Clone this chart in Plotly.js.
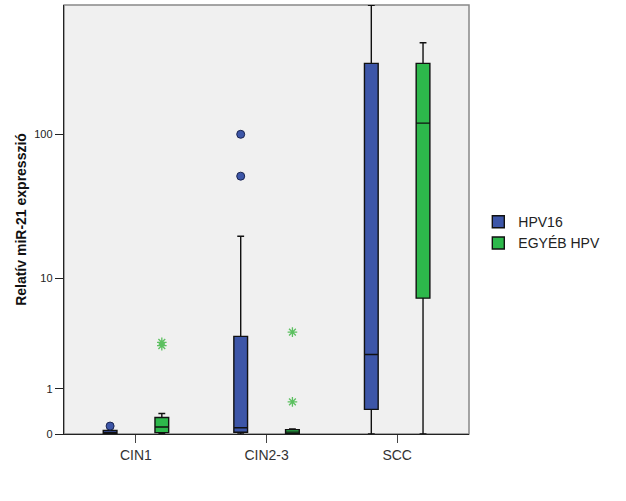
<!DOCTYPE html>
<html>
<head>
<meta charset="utf-8">
<script src="https://cdn.plot.ly/plotly-3.0.1.min.js"></script>
<style>
  html, body { margin: 0; padding: 0; background: #fff; }
  #chart { width: 626px; height: 501px; }
</style>
</head>
<body>
<div id="chart"></div>
<script>
// categories and box stats (raw units, axis is log10(v+1))
var cats = ['CIN1', 'CIN2-3', 'SCC'];

var hpv16Lo  = [0,     0,     0];
var hpv16Q1  = [0.003, 0.027, 0.46];
var hpv16Med = [0.02,  0.10,  2.4];
var hpv16Q3  = [0.055, 3.5,   300];
var hpv16Hi  = [0.06,  20,    735];

var egyLo  = [0,     0,     0];
var egyQ1  = [0.022, 0.005, 7.1];
var egyMed = [0.114, 0.03,  119];
var egyQ3  = [0.29,  0.07,  300];
var egyHi  = [0.37,  0.08,  413];

// outliers (circles for HPV16, stars for the rest)
var hpv16OutCat = ['CIN1', 'CIN2-3', 'CIN2-3'];
var hpv16OutVal = [0.13,   52,       100];
var egyOutCat = ['CIN1', 'CIN1', 'CIN2-3', 'CIN2-3'];
var egyOutVal = [2.9,    3.1,    0.64,     3.8];

var tickVals = [0, 1, 10, 100];

// helpers
function tr(v) { return Math.log10(v + 1); }
function t(a) { return a.map(tr); }
var off = 0.198, bw = 0.105;
function pos(c, d) { return cats.indexOf(c) + d; }

var blue = '#3d56a8', green = '#2db84b';

var traces = [
  { type: 'box', name: 'HPV16', x: cats.map(function (c, i) { return i - off; }),
    lowerfence: t(hpv16Lo), q1: t(hpv16Q1), median: t(hpv16Med), q3: t(hpv16Q3), upperfence: t(hpv16Hi),
    width: bw, whiskerwidth: 0.5, fillcolor: blue, line: { color: '#111', width: 1.4 },
    boxpoints: false, hoverinfo: 'skip' },
  { type: 'box', name: 'EGYÉB HPV', x: cats.map(function (c, i) { return i + off; }),
    lowerfence: t(egyLo), q1: t(egyQ1), median: t(egyMed), q3: t(egyQ3), upperfence: t(egyHi),
    width: bw, whiskerwidth: 0.5, fillcolor: green, line: { color: '#111', width: 1.4 },
    boxpoints: false, hoverinfo: 'skip' },
  { type: 'scatter', mode: 'markers', showlegend: false, hoverinfo: 'skip',
    x: hpv16OutCat.map(function (c) { return pos(c, -off); }), y: t(hpv16OutVal),
    marker: { symbol: 'circle', size: 8, color: blue, line: { color: '#1a2450', width: 1 } } },
  { type: 'scatter', mode: 'markers', showlegend: false, hoverinfo: 'skip',
    x: egyOutCat.map(function (c) { return pos(c, off); }), y: t(egyOutVal),
    marker: { symbol: 'asterisk-open', size: 8, color: '#5cc060', line: { color: '#5cc060', width: 1.3 } } }
];

var layout = {
  width: 626, height: 501,
  margin: { l: 64, r: 157, t: 5, b: 67 },
  paper_bgcolor: '#fff', plot_bgcolor: '#f0f0f0',
  font: { family: 'Liberation Sans, Arial, sans-serif', color: '#222' },
  boxmode: 'overlay',
  showlegend: true,
  legend: { x: 1.023, y: 0.531, xanchor: 'left', yanchor: 'top', tracegroupgap: 0, itemwidth: 30,
            font: { size: 14, color: '#222' }, bgcolor: 'rgba(0,0,0,0)' },
  xaxis: { range: [-0.551, 2.55], tickvals: [0, 1, 2], ticktext: cats,
           ticks: 'outside', ticklen: 8, tickcolor: '#444', tickfont: { size: 14, color: '#333' },
           showgrid: false, zeroline: false, showline: true, linecolor: '#222', linewidth: 1.2 },
  yaxis: { range: [0, 2.869], tickvals: t(tickVals), ticktext: tickVals.map(String),
           ticks: 'outside', ticklen: 8, tickcolor: '#222', tickfont: { size: 11, color: '#222' },
           showgrid: false, zeroline: false, showline: true, linecolor: '#222', linewidth: 1.2,
           title: { text: 'Relatív miR-21 expresszió', font: { size: 14, color: '#111', weight: 'bold' }, standoff: 4 } },
  shapes: [{ type: 'rect', xref: 'paper', yref: 'paper', x0: 0, x1: 1, y0: 0, y1: 1,
             line: { color: '#888', width: 1.5 }, layer: 'below' }]
};

Plotly.newPlot('chart', traces, layout, { staticPlot: true });
</script>
</body>
</html>
